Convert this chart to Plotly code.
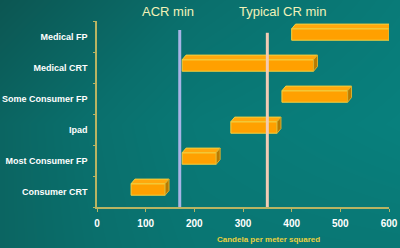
import plotly.graph_objects as go

categories = ["Consumer CRT", "Most Consumer FP", "Ipad", "Some Consumer FP", "Medical CRT", "Medical FP"]
starts = [70, 175, 275, 380, 175, 400]
ends = [140, 245, 370, 515, 445, 600]
x_ticks = [0, 100, 200, 300, 400, 500, 600]
acr_min = 170
typical_cr_min = 350

ypos = list(range(len(categories)))
front_lo, front_hi, top_hi, depth = -0.12, 0.25, 0.40, 8

fig = go.Figure()

# background gradient (full-paper heatmap on its own axes)
fig.add_trace(go.Heatmap(
    z=[[0.3, 0.7, 0.75], [0.3, 0.8, 1.0], [0.0, 0.5, 0.85]],
    x=[0, 0.5, 1], y=[0, 0.5, 1], zsmooth="best", showscale=False, hoverinfo="skip",
    colorscale=[[0, "#0c5652"], [0.5, "#0a6f6c"], [1, "#08807d"]],
    xaxis="x", yaxis="y"))

# front faces
fig.add_trace(go.Bar(
    y=ypos, x=[e - s for s, e in zip(starts, ends)], base=starts, orientation="h",
    width=front_hi - front_lo, offset=front_lo,
    marker=dict(color="#ffa000", line=dict(color="#f2d040", width=1)),
    xaxis="x2", yaxis="y2", hoverinfo="skip"))

# top faces
tx, ty = [], []
for yi, s, e in zip(ypos, starts, ends):
    tx += [s, e, e + depth, s + depth, s, None]
    ty += [yi + front_hi, yi + front_hi, yi + top_hi, yi + top_hi, yi + front_hi, None]
fig.add_trace(go.Scatter(x=tx, y=ty, fill="toself", fillcolor="#ffa80c", mode="lines",
                         line=dict(color="#f2d040", width=1), xaxis="x2", yaxis="y2", hoverinfo="skip"))
# side faces
sx, sy = [], []
for yi, e in zip(ypos, ends):
    sx += [e, e + depth, e + depth, e, e, None]
    sy += [yi + front_lo, yi + front_lo + (top_hi - front_hi), yi + top_hi, yi + front_hi, yi + front_lo, None]
fig.add_trace(go.Scatter(x=sx, y=sy, fill="toself", fillcolor="#b87a00", mode="lines",
                         line=dict(color="#d8b030", width=1), xaxis="x2", yaxis="y2", hoverinfo="skip"))

# reference lines
fig.add_trace(go.Scatter(x=[acr_min, acr_min], y=[-0.5, 5.21], mode="lines",
                         line=dict(color="#a8b4e6", width=3), xaxis="x2", yaxis="y2", hoverinfo="skip"))
fig.add_trace(go.Scatter(x=[typical_cr_min, typical_cr_min], y=[-0.5, 5.12], mode="lines",
                         line=dict(color="#f2cbb4", width=3), xaxis="x2", yaxis="y2", hoverinfo="skip"))

# boundary ticks for y axis
fig.add_trace(go.Scatter(x=[None], y=[None], xaxis="x2", yaxis="y3", showlegend=False))

font_fam = "Liberation Sans, Arial, sans-serif"
axcol = "#b8b462"
dom_x = [97 / 400, 389 / 400]
dom_y = [1 - 207 / 248, 1 - 21 / 248]

fig.update_layout(
    width=400, height=248, margin=dict(l=0, r=0, t=0, b=0, pad=0),
    showlegend=False, paper_bgcolor="#0a6f6c", plot_bgcolor="rgba(0,0,0,0)",
    xaxis=dict(domain=[0, 1], range=[0, 1], visible=False, fixedrange=True, automargin=False),
    yaxis=dict(domain=[0, 1], range=[0, 1], visible=False, fixedrange=True, automargin=False),
    xaxis2=dict(domain=dom_x, anchor="y2", range=[0, 600], tickvals=x_ticks, automargin=False,
                showgrid=False, zeroline=False, showline=True, linecolor=axcol, linewidth=1.5,
                ticks="outside", ticklen=3, tickcolor=axcol, ticklabelstandoff=3,
                tickfont=dict(family=font_fam, size=10, color="white", weight="bold")),
    yaxis2=dict(domain=dom_y, anchor="x2", range=[-0.5, 5.5], tickvals=ypos, ticktext=categories,
                automargin=False,
                showgrid=False, zeroline=False, showline=True, linecolor=axcol, linewidth=1.5,
                ticks="", ticklabelstandoff=6,
                tickfont=dict(family=font_fam, size=9, color="white", weight="bold")),
    yaxis3=dict(overlaying="y2", anchor="x2", range=[-0.5, 5.5], automargin=False,
                tickvals=[-0.5, 0.5, 1.5, 2.5, 3.5, 4.5, 5.5], showticklabels=False,
                ticks="outside", ticklen=3, tickcolor=axcol, showgrid=False, zeroline=False, showline=False),
    annotations=[
        dict(text="ACR min", x=168 / 400, y=1 - 12 / 248, xref="paper", yref="paper", showarrow=False,
             xanchor="center", yanchor="middle",
             font=dict(family=font_fam, size=13, color="#f2f2b8")),
        dict(text="Typical CR min", x=282 / 400, y=1 - 12 / 248, xref="paper", yref="paper", showarrow=False,
             xanchor="center", yanchor="middle",
             font=dict(family=font_fam, size=13, color="#f2f2b8")),
        dict(text="Candela per meter squared", x=268 / 400, y=1 - 239 / 248, xref="paper", yref="paper",
             xanchor="center", yanchor="middle",
             showarrow=False, font=dict(family=font_fam, size=8, color="#e8d040", weight="bold")),
    ],
)

fig.write_html("out.html")
